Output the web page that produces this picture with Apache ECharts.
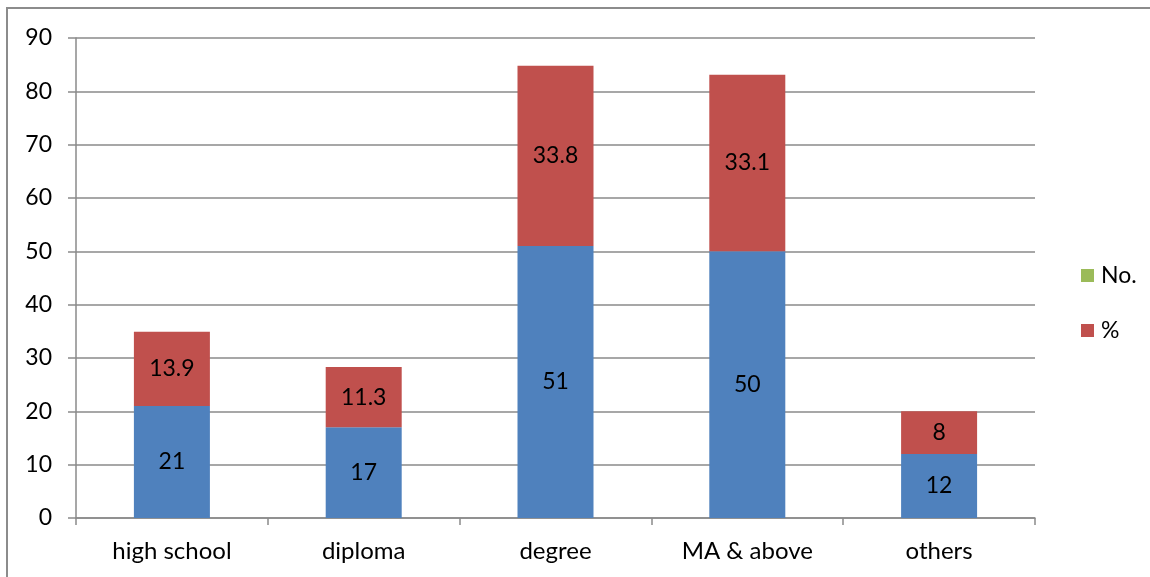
<!DOCTYPE html>
<html>
<head>
<meta charset="utf-8">
<script src="https://cdn.jsdelivr.net/npm/echarts@6/dist/echarts.min.js"></script>
<style>
  html, body { margin: 0; padding: 0; background: #fff; }
  #chart { width: 1150px; height: 577px; }
</style>
</head>
<body>
<div id="chart"></div>
<script>
// Education level breakdown: counts stacked with percentages
const categories = ['high school', 'diploma', 'degree', 'MA & above', 'others'];
const countValues = [21, 17, 51, 50, 12];
const percentValues = [13.9, 11.3, 33.8, 33.1, 8];
const yTicks = { min: 0, max: 90, interval: 10 };

const FONT = 'Lato, "Open Sans", sans-serif';
const gridColor = '#8a8a8a';

const chart = echarts.init(document.getElementById('chart'));
chart.setOption({
  animation: false,
  backgroundColor: '#fff',
  graphic: [{
    type: 'rect',
    shape: { x: 7, y: 8, width: 1200, height: 620 },
    style: { fill: 'none', stroke: '#8c8c8c', lineWidth: 2 },
    silent: true
  }],
  grid: { left: 76, right: 115, top: 38, bottom: 59 },
  legend: {
    orient: 'vertical',
    left: 1076,
    top: 259,
    itemWidth: 13,
    itemHeight: 13,
    itemGap: 32,
    icon: 'rect',
    textStyle: { fontFamily: FONT, fontSize: 23, color: '#000', padding: [0, 0, 0, 2] },
    data: [
      { name: 'No.', itemStyle: { color: '#9bbb59' } },
      { name: '%' }
    ]
  },
  xAxis: {
    type: 'category',
    data: categories,
    axisLine: { lineStyle: { color: gridColor, width: 1.5 } },
    axisTick: { show: true, length: 7, alignWithLabel: false, lineStyle: { color: gridColor, width: 1.5 } },
    axisLabel: { fontFamily: FONT, fontSize: 24, color: '#000', margin: 21 }
  },
  yAxis: {
    type: 'value',
    min: yTicks.min,
    max: yTicks.max,
    interval: yTicks.interval,
    axisLine: { show: true, lineStyle: { color: gridColor, width: 1.5 } },
    axisTick: { show: true, length: 8, lineStyle: { color: gridColor, width: 1.5 } },
    splitLine: { lineStyle: { color: gridColor, width: 1.5 } },
    axisLabel: { fontFamily: FONT, fontSize: 23, color: '#000', margin: 24 }
  },
  series: [
    {
      name: 'No.',
      type: 'bar',
      stack: 'total',
      data: countValues,
      barWidth: 76,
      itemStyle: { color: '#4f81bd' },
      label: { show: true, position: 'inside', fontFamily: FONT, fontSize: 23, color: '#000' }
    },
    {
      name: '%',
      type: 'bar',
      stack: 'total',
      data: percentValues,
      barWidth: 76,
      itemStyle: { color: '#c0504d' },
      label: { show: true, position: 'inside', fontFamily: FONT, fontSize: 23, color: '#000' }
    }
  ]
});
</script>
</body>
</html>
